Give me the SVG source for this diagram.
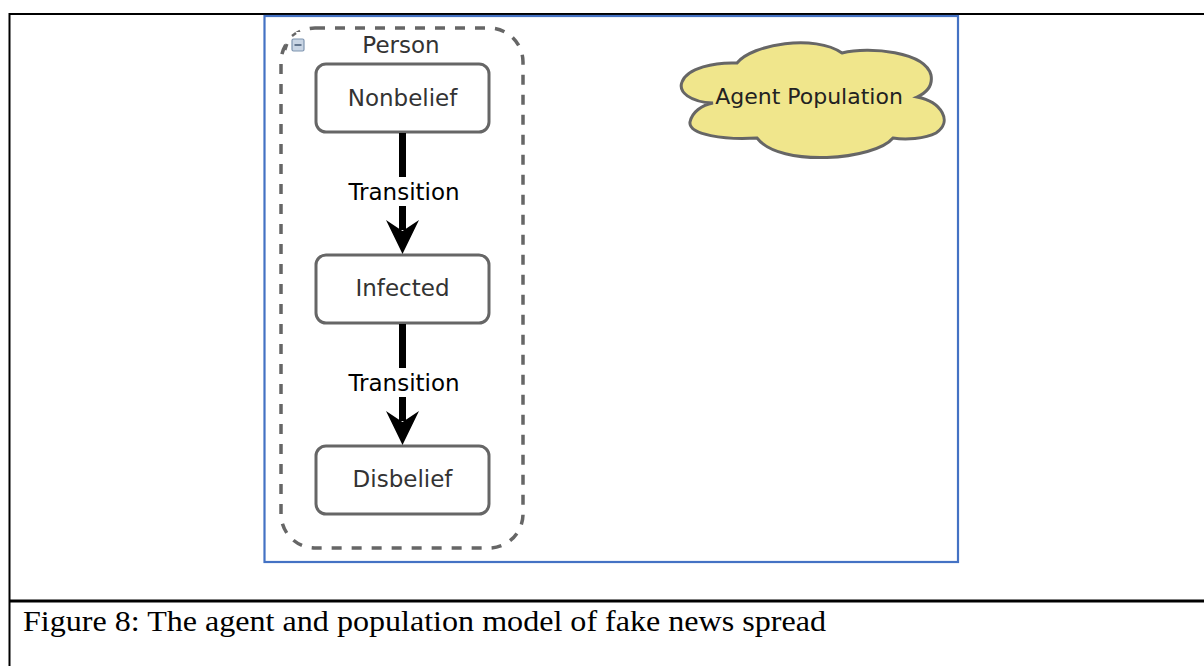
<svg xmlns="http://www.w3.org/2000/svg" width="1204" height="666" viewBox="0 0 1204 666">
  <style>
    .state { fill: #ffffff; stroke: #666666; stroke-width: 3; }
    .slabel { font-family: "Comic Sans MS", "DejaVu Sans", sans-serif; font-size: 23px; fill: #333333; text-anchor: middle; }
    .tlabel { font-family: "Comic Sans MS", "DejaVu Sans", sans-serif; font-size: 23px; fill: #000000; text-anchor: middle; }
    .shaft { stroke: #000000; stroke-width: 7; fill: none; }
    .head { fill: #000000; }
  </style>
  <rect x="0" y="0" width="1204" height="666" fill="#ffffff"/>
  <!-- table borders -->
  <g id="table">
    <line x1="9" y1="14" x2="1204" y2="14" stroke="#000" stroke-width="2"/>
    <line x1="9.5" y1="13" x2="9.5" y2="666" stroke="#000" stroke-width="2"/>
    <line x1="9" y1="601" x2="1204" y2="601" stroke="#000" stroke-width="3"/>
  </g>
  <!-- blue frame -->
  <rect id="frame" x="264.5" y="16" width="693.5" height="546" fill="none" stroke="#4472C4" stroke-width="2.2"/>

  <!-- Person container -->
  <g id="person">
    <rect x="281" y="28" width="242" height="520" rx="34" ry="34" fill="none" stroke="#666666" stroke-width="3.5" stroke-dasharray="10,10"/>
    <rect x="290" y="32" width="22" height="22" fill="#ffffff"/>
    <rect x="292" y="39" width="12" height="12" rx="1.5" fill="#c9d5e4" stroke="#7f95b0" stroke-width="1.2"/>
    <line x1="294.5" y1="45" x2="301.5" y2="45" stroke="#4a5d78" stroke-width="1.6"/>
    <path d="M285,50 L287,44" stroke="#666666" stroke-width="3" fill="none"/>
    <path d="M292,36 L296,33" stroke="#666666" stroke-width="2.5" fill="none"/>
    <text class="slabel" x="401" y="53">Person</text>
  </g>

  <g id="nonbelief">
    <rect class="state" x="316" y="64" width="173" height="68" rx="10" ry="10"/>
    <text class="slabel" x="402.5" y="106">Nonbelief</text>
  </g>
  <g id="infected">
    <rect class="state" x="316" y="255" width="173" height="68" rx="10" ry="10"/>
    <text class="slabel" x="402.5" y="296">Infected</text>
  </g>
  <g id="disbelief">
    <rect class="state" x="316" y="446" width="173" height="68" rx="10" ry="10"/>
    <text class="slabel" x="402.5" y="487">Disbelief</text>
  </g>

  <!-- Agent Population cloud -->
  <g id="agent-population">
    <path d="M713,103 C690,102 678,92 682,82 C687,68 715,62 737,63 C752,44 815,34 842,53 C870,46 925,52 931,75 C933,86 926,93 917,97 C942,102 953,122 936,133 C925,139 905,140 893,138 C875,160 780,168 757,138 C725,140 688,135 690,122 C692,112 702,105 713,103 Z" fill="#F0E68C" stroke="#666666" stroke-width="3"/>
    <text x="809" y="104" font-family="'Comic Sans MS', 'DejaVu Sans', sans-serif" font-size="22" fill="#222222" text-anchor="middle">Agent Population</text>
  </g>

  <!-- connectors -->
  <g id="connectors">
    <line class="shaft" x1="402.5" y1="133" x2="402.5" y2="177"/>
    <line class="shaft" x1="402.5" y1="206" x2="402.5" y2="230"/>
    <path class="head" d="M402.5,254 L386,220 L402.5,231 L419,220 Z"/>
    <text class="tlabel" x="404" y="200">Transition</text>

    <line class="shaft" x1="402.5" y1="324" x2="402.5" y2="368"/>
    <line class="shaft" x1="402.5" y1="397" x2="402.5" y2="421"/>
    <path class="head" d="M402.5,445 L386,411 L402.5,422 L419,411 Z"/>
    <text class="tlabel" x="404" y="391">Transition</text>
  </g>

  <text id="caption" x="23" y="631" font-family="'Liberation Serif', 'Times New Roman', serif" font-size="30" textLength="803" lengthAdjust="spacingAndGlyphs" fill="#000000">Figure 8: The agent and population model of fake news spread</text>
</svg>
